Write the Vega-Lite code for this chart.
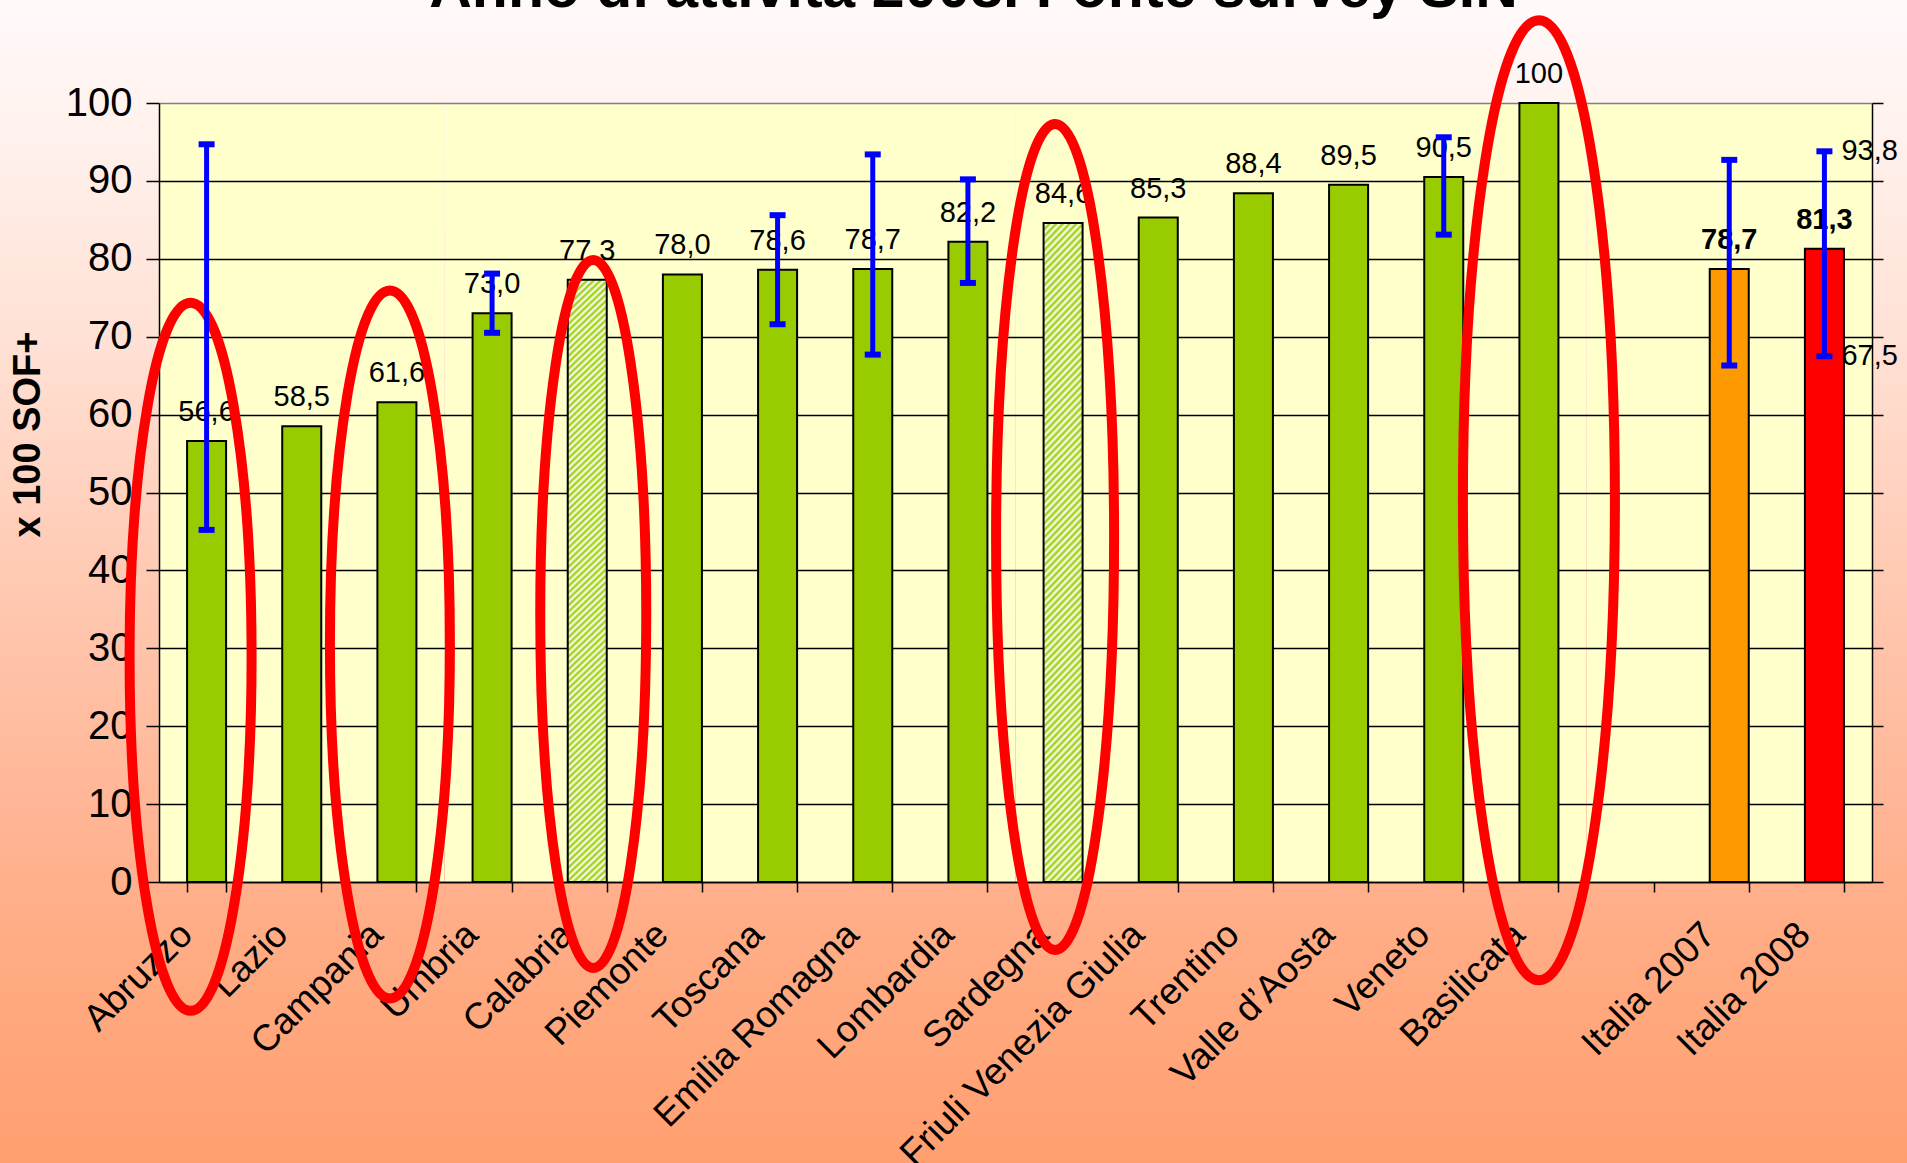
{
  "$schema": "https://vega.github.io/schema/vega-lite/v6.json",
  "width": 1907,
  "height": 1163,
  "autosize": {"type": "none"},
  "padding": 0,
  "background": "#ffffff",
  "view": {
    "stroke": null,
    "fill": {
      "gradient": "linear", "x1": 0, "y1": 0, "x2": 0, "y2": 1,
      "stops": [
        {"offset": 0, "color": "#fffafa"},
        {"offset": 0.12, "color": "#fff1ec"},
        {"offset": 0.3, "color": "#ffe0d4"},
        {"offset": 0.5, "color": "#ffc9b2"},
        {"offset": 0.7, "color": "#ffb595"},
        {"offset": 0.82, "color": "#ffab83"},
        {"offset": 1, "color": "#ff9f70"}
      ]
    }
  },
  "title": {
    "text": "Anno di attività 2008. Fonte survey SIN",
    "font": "Liberation Sans",
    "fontSize": 59,
    "fontWeight": "bold",
    "color": "#000000",
    "anchor": "middle",
    "offset": -19,
    "dx": 20
  },
  "datasets": {
    "dati": [
      {"regione": "Abruzzo", "valore": 56.6, "etichetta": "56,6", "lo": 45.2, "hi": 94.7},
      {"regione": "Lazio", "valore": 58.5, "etichetta": "58,5"},
      {"regione": "Campania", "valore": 61.6, "etichetta": "61,6"},
      {"regione": "Umbria", "valore": 73.0, "etichetta": "73,0", "lo": 70.5, "hi": 78.1},
      {"regione": "Calabria", "valore": 77.3, "etichetta": "77,3"},
      {"regione": "Piemonte", "valore": 78.0, "etichetta": "78,0"},
      {"regione": "Toscana", "valore": 78.6, "etichetta": "78,6", "lo": 71.6, "hi": 85.6},
      {"regione": "Emilia Romagna", "valore": 78.7, "etichetta": "78,7", "lo": 67.7, "hi": 93.4},
      {"regione": "Lombardia", "valore": 82.2, "etichetta": "82,2", "lo": 76.9, "hi": 90.2},
      {"regione": "Sardegna", "valore": 84.6, "etichetta": "84,6"},
      {"regione": "Friuli Venezia Giulia", "valore": 85.3, "etichetta": "85,3"},
      {"regione": "Trentino", "valore": 88.4, "etichetta": "88,4"},
      {"regione": "Valle d’Aosta", "valore": 89.5, "etichetta": "89,5"},
      {"regione": "Veneto", "valore": 90.5, "etichetta": "90,5", "lo": 83.1, "hi": 95.6},
      {"regione": "Basilicata", "valore": 100, "etichetta": "100"},
      {"regione": "Italia 2007", "valore": 78.7, "etichetta": "78,7", "lo": 66.3, "hi": 92.7},
      {"regione": "Italia 2008", "valore": 81.3, "etichetta": "81,3", "lo": 67.5, "hi": 93.8, "etichetta_lo": "67,5", "etichetta_hi": "93,8"}
    ],
    "ellissi": [
      {"regione": "Abruzzo", "centro": 28.9},
      {"regione": "Campania", "centro": 30.5},
      {"regione": "Calabria", "centro": 34.4},
      {"regione": "Sardegna", "centro": 44.3},
      {"regione": "Basilicata", "centro": 49.0}
    ]
  },
  "data": {"name": "dati"},
  "resolve": {"axis": {"x": "independent", "y": "independent"}},
  "layer": [
    {
      "mark": {"type": "bar", "stroke": "#000000", "strokeWidth": 2},
      "encoding": {
        "x": {
          "field": "regione", "type": "nominal", "sort": null,
          "scale": {
            "domain": ["Abruzzo", "Lazio", "Campania", "Umbria", "Calabria", "Piemonte", "Toscana", "Emilia Romagna", "Lombardia", "Sardegna", "Friuli Venezia Giulia", "Trentino", "Valle d’Aosta", "Veneto", "Basilicata", " ", "Italia 2007", "Italia 2008"],
            "range": [159, 1872],
            "paddingInner": 0.59,
            "paddingOuter": 0.295
          },
          "axis": {
            "orient": "bottom",
            "offset": -281,
            "title": null,
            "labelAngle": -45,
            "labelAlign": "right",
            "labelBaseline": "top",
            "labelFont": "Liberation Sans",
            "labelFontSize": 37,
            "labelColor": "#000000",
            "labelPadding": 24,
            "labelOffset": -33,
            "labelLimit": 0,
            "labelOverlap": false,
            "labelBound": false,
            "labelFlush": false,
            "tickBand": "extent",
            "tickSize": 10,
            "tickColor": "#000000",
            "tickWidth": 1.5,
            "domainColor": "#000000",
            "domainWidth": 1.5,
            "grid": false
          }
        },
        "y": {
          "field": "valore", "type": "quantitative",
          "scale": {"domain": [0, 100], "range": [882, 103], "nice": false, "zero": true},
          "axis": {
            "orient": "left",
            "offset": -159,
            "values": [0, 10, 20, 30, 40, 50, 60, 70, 80, 90, 100],
            "title": "x 100 SOF+",
            "titleFont": "Liberation Sans",
            "titleFontSize": 38,
            "titleFontWeight": "bold",
            "titleColor": "#000000",
            "titlePadding": 18,
            "titleY": 434,
            "labelFont": "Liberation Sans",
            "labelFontSize": 40,
            "labelColor": "#000000",
            "labelPadding": 14,
            "tickSize": 13,
            "tickColor": "#000000",
            "tickWidth": 1.5,
            "domainColor": "#000000",
            "domainWidth": 1.5,
            "grid": true,
            "gridColor": {"condition": {"test": "datum.value === 100", "value": "#808080"}, "value": "#000000"},
            "gridWidth": 1.3,
            "gridOpacity": 1
          }
        },
        "fill": {
          "condition": [
            {
              "test": "datum.regione === 'Calabria' || datum.regione === 'Sardegna'",
              "value": {
                "gradient": "linear", "x1": 0, "y1": 0, "x2": 0.0655, "y2": 1.058,
                "stops": [
{"offset":0,"color":"#9c0"},{"offset":0.005,"color":"#fff"},{"offset":0.01,"color":"#9c0"},{"offset":0.015,"color":"#fff"},{"offset":0.02,"color":"#9c0"},{"offset":0.025,"color":"#fff"},{"offset":0.03,"color":"#9c0"},{"offset":0.035,"color":"#fff"},{"offset":0.04,"color":"#9c0"},{"offset":0.045,"color":"#fff"},
{"offset":0.05,"color":"#9c0"},{"offset":0.055,"color":"#fff"},{"offset":0.06,"color":"#9c0"},{"offset":0.065,"color":"#fff"},{"offset":0.07,"color":"#9c0"},{"offset":0.075,"color":"#fff"},{"offset":0.08,"color":"#9c0"},{"offset":0.085,"color":"#fff"},{"offset":0.09,"color":"#9c0"},{"offset":0.095,"color":"#fff"},
{"offset":0.1,"color":"#9c0"},{"offset":0.105,"color":"#fff"},{"offset":0.11,"color":"#9c0"},{"offset":0.115,"color":"#fff"},{"offset":0.12,"color":"#9c0"},{"offset":0.125,"color":"#fff"},{"offset":0.13,"color":"#9c0"},{"offset":0.135,"color":"#fff"},{"offset":0.14,"color":"#9c0"},{"offset":0.145,"color":"#fff"},
{"offset":0.15,"color":"#9c0"},{"offset":0.155,"color":"#fff"},{"offset":0.16,"color":"#9c0"},{"offset":0.165,"color":"#fff"},{"offset":0.17,"color":"#9c0"},{"offset":0.175,"color":"#fff"},{"offset":0.18,"color":"#9c0"},{"offset":0.185,"color":"#fff"},{"offset":0.19,"color":"#9c0"},{"offset":0.195,"color":"#fff"},
{"offset":0.2,"color":"#9c0"},{"offset":0.205,"color":"#fff"},{"offset":0.21,"color":"#9c0"},{"offset":0.215,"color":"#fff"},{"offset":0.22,"color":"#9c0"},{"offset":0.225,"color":"#fff"},{"offset":0.23,"color":"#9c0"},{"offset":0.235,"color":"#fff"},{"offset":0.24,"color":"#9c0"},{"offset":0.245,"color":"#fff"},
{"offset":0.25,"color":"#9c0"},{"offset":0.255,"color":"#fff"},{"offset":0.26,"color":"#9c0"},{"offset":0.265,"color":"#fff"},{"offset":0.27,"color":"#9c0"},{"offset":0.275,"color":"#fff"},{"offset":0.28,"color":"#9c0"},{"offset":0.285,"color":"#fff"},{"offset":0.29,"color":"#9c0"},{"offset":0.295,"color":"#fff"},
{"offset":0.3,"color":"#9c0"},{"offset":0.305,"color":"#fff"},{"offset":0.31,"color":"#9c0"},{"offset":0.315,"color":"#fff"},{"offset":0.32,"color":"#9c0"},{"offset":0.325,"color":"#fff"},{"offset":0.33,"color":"#9c0"},{"offset":0.335,"color":"#fff"},{"offset":0.34,"color":"#9c0"},{"offset":0.345,"color":"#fff"},
{"offset":0.35,"color":"#9c0"},{"offset":0.355,"color":"#fff"},{"offset":0.36,"color":"#9c0"},{"offset":0.365,"color":"#fff"},{"offset":0.37,"color":"#9c0"},{"offset":0.375,"color":"#fff"},{"offset":0.38,"color":"#9c0"},{"offset":0.385,"color":"#fff"},{"offset":0.39,"color":"#9c0"},{"offset":0.395,"color":"#fff"},
{"offset":0.4,"color":"#9c0"},{"offset":0.405,"color":"#fff"},{"offset":0.41,"color":"#9c0"},{"offset":0.415,"color":"#fff"},{"offset":0.42,"color":"#9c0"},{"offset":0.425,"color":"#fff"},{"offset":0.43,"color":"#9c0"},{"offset":0.435,"color":"#fff"},{"offset":0.44,"color":"#9c0"},{"offset":0.445,"color":"#fff"},
{"offset":0.45,"color":"#9c0"},{"offset":0.455,"color":"#fff"},{"offset":0.46,"color":"#9c0"},{"offset":0.465,"color":"#fff"},{"offset":0.47,"color":"#9c0"},{"offset":0.475,"color":"#fff"},{"offset":0.48,"color":"#9c0"},{"offset":0.485,"color":"#fff"},{"offset":0.49,"color":"#9c0"},{"offset":0.495,"color":"#fff"},
{"offset":0.5,"color":"#9c0"},{"offset":0.505,"color":"#fff"},{"offset":0.51,"color":"#9c0"},{"offset":0.515,"color":"#fff"},{"offset":0.52,"color":"#9c0"},{"offset":0.525,"color":"#fff"},{"offset":0.53,"color":"#9c0"},{"offset":0.535,"color":"#fff"},{"offset":0.54,"color":"#9c0"},{"offset":0.545,"color":"#fff"},
{"offset":0.55,"color":"#9c0"},{"offset":0.555,"color":"#fff"},{"offset":0.56,"color":"#9c0"},{"offset":0.565,"color":"#fff"},{"offset":0.57,"color":"#9c0"},{"offset":0.575,"color":"#fff"},{"offset":0.58,"color":"#9c0"},{"offset":0.585,"color":"#fff"},{"offset":0.59,"color":"#9c0"},{"offset":0.595,"color":"#fff"},
{"offset":0.6,"color":"#9c0"},{"offset":0.605,"color":"#fff"},{"offset":0.61,"color":"#9c0"},{"offset":0.615,"color":"#fff"},{"offset":0.62,"color":"#9c0"},{"offset":0.625,"color":"#fff"},{"offset":0.63,"color":"#9c0"},{"offset":0.635,"color":"#fff"},{"offset":0.64,"color":"#9c0"},{"offset":0.645,"color":"#fff"},
{"offset":0.65,"color":"#9c0"},{"offset":0.655,"color":"#fff"},{"offset":0.66,"color":"#9c0"},{"offset":0.665,"color":"#fff"},{"offset":0.67,"color":"#9c0"},{"offset":0.675,"color":"#fff"},{"offset":0.68,"color":"#9c0"},{"offset":0.685,"color":"#fff"},{"offset":0.69,"color":"#9c0"},{"offset":0.695,"color":"#fff"},
{"offset":0.7,"color":"#9c0"},{"offset":0.705,"color":"#fff"},{"offset":0.71,"color":"#9c0"},{"offset":0.715,"color":"#fff"},{"offset":0.72,"color":"#9c0"},{"offset":0.725,"color":"#fff"},{"offset":0.73,"color":"#9c0"},{"offset":0.735,"color":"#fff"},{"offset":0.74,"color":"#9c0"},{"offset":0.745,"color":"#fff"},
{"offset":0.75,"color":"#9c0"},{"offset":0.755,"color":"#fff"},{"offset":0.76,"color":"#9c0"},{"offset":0.765,"color":"#fff"},{"offset":0.77,"color":"#9c0"},{"offset":0.775,"color":"#fff"},{"offset":0.78,"color":"#9c0"},{"offset":0.785,"color":"#fff"},{"offset":0.79,"color":"#9c0"},{"offset":0.795,"color":"#fff"},
{"offset":0.8,"color":"#9c0"},{"offset":0.805,"color":"#fff"},{"offset":0.81,"color":"#9c0"},{"offset":0.815,"color":"#fff"},{"offset":0.82,"color":"#9c0"},{"offset":0.825,"color":"#fff"},{"offset":0.83,"color":"#9c0"},{"offset":0.835,"color":"#fff"},{"offset":0.84,"color":"#9c0"},{"offset":0.845,"color":"#fff"},
{"offset":0.85,"color":"#9c0"},{"offset":0.855,"color":"#fff"},{"offset":0.86,"color":"#9c0"},{"offset":0.865,"color":"#fff"},{"offset":0.87,"color":"#9c0"},{"offset":0.875,"color":"#fff"},{"offset":0.88,"color":"#9c0"},{"offset":0.885,"color":"#fff"},{"offset":0.89,"color":"#9c0"},{"offset":0.895,"color":"#fff"},
{"offset":0.9,"color":"#9c0"},{"offset":0.905,"color":"#fff"},{"offset":0.91,"color":"#9c0"},{"offset":0.915,"color":"#fff"},{"offset":0.92,"color":"#9c0"},{"offset":0.925,"color":"#fff"},{"offset":0.93,"color":"#9c0"},{"offset":0.935,"color":"#fff"},{"offset":0.94,"color":"#9c0"},{"offset":0.945,"color":"#fff"},
{"offset":0.95,"color":"#9c0"},{"offset":0.955,"color":"#fff"},{"offset":0.96,"color":"#9c0"},{"offset":0.965,"color":"#fff"},{"offset":0.97,"color":"#9c0"},{"offset":0.975,"color":"#fff"},{"offset":0.98,"color":"#9c0"},{"offset":0.985,"color":"#fff"},{"offset":0.99,"color":"#9c0"},{"offset":0.995,"color":"#fff"},
{"offset":1,"color":"#9c0"}
                ]
              }
            },
            {"test": "datum.regione === 'Italia 2007'", "value": "#ff9900"},
            {"test": "datum.regione === 'Italia 2008'", "value": "#ff0000"}
          ],
          "value": "#99cc00"
        }
      }
    },
    {
      "transform": [{"filter": "datum.regione !== 'Italia 2007' && datum.regione !== 'Italia 2008'"}],
      "mark": {"type": "text", "font": "Liberation Sans", "fontSize": 29, "color": "#000000", "align": "center", "baseline": "alphabetic", "dy": -20},
      "encoding": {
        "x": {"field": "regione", "type": "nominal", "axis": null},
        "y": {"field": "valore", "type": "quantitative", "axis": null},
        "text": {"field": "etichetta"}
      }
    },
    {
      "transform": [{"filter": "datum.regione === 'Italia 2007' || datum.regione === 'Italia 2008'"}],
      "mark": {"type": "text", "font": "Liberation Sans", "fontSize": 29, "fontWeight": "bold", "color": "#000000", "align": "center", "baseline": "alphabetic", "dy": -20},
      "encoding": {
        "x": {"field": "regione", "type": "nominal", "axis": null},
        "y": {"field": "valore", "type": "quantitative", "axis": null},
        "text": {"field": "etichetta"}
      }
    },
    {
      "data": {"name": "ellissi"},
      "mark": {"type": "point", "filled": false, "fill": null, "stroke": "#ff0000", "strokeWidth": 10, "opacity": 1, "size": 1000000},
      "encoding": {
        "x": {"field": "regione", "type": "nominal", "axis": null},
        "y": {"field": "centro", "type": "quantitative", "axis": null},
        "shape": {
          "field": "regione", "type": "nominal", "legend": null,
          "scale": {
            "domain": ["Abruzzo", "Campania", "Calabria", "Sardegna", "Basilicata"],
            "range": [
              "M-0.032 -0.708C0.0354 -0.708 0.09 -0.391 0.09 0C0.09 0.391 0.0354 0.708 -0.032 0.708C-0.0994 0.708 -0.154 0.391 -0.154 0C-0.154 -0.391 -0.0994 -0.708 -0.032 -0.708Z",
              "M-0.014 -0.708C0.0523 -0.708 0.106 -0.391 0.106 0C0.106 0.391 0.0523 0.708 -0.014 0.708C-0.0803 0.708 -0.134 0.391 -0.134 0C-0.134 -0.391 -0.0803 -0.708 -0.014 -0.708Z",
              "M0.012 -0.708C0.0705 -0.708 0.118 -0.391 0.118 0C0.118 0.391 0.0705 0.708 0.012 0.708C-0.0465 0.708 -0.094 0.391 -0.094 0C-0.094 -0.391 -0.0465 -0.708 0.012 -0.708Z",
              "M-0.016 -0.826C0.0492 -0.826 0.102 -0.4562 0.102 0C0.102 0.4562 0.0492 0.826 -0.016 0.826C-0.0812 0.826 -0.134 0.4562 -0.134 0C-0.134 -0.4562 -0.0812 -0.826 -0.016 -0.826Z",
              "M0 -0.96C0.0839 -0.96 0.152 -0.5302 0.152 0C0.152 0.5302 0.0839 0.96 0 0.96C-0.0839 0.96 -0.152 0.5302 -0.152 0C-0.152 -0.5302 -0.0839 -0.96 0 -0.96Z"
            ]
          }
        }
      }
    },
    {
      "transform": [{"filter": "isValid(datum.lo)"}],
      "mark": {"type": "rule", "color": "#0000ff", "strokeWidth": 5},
      "encoding": {
        "x": {
          "field": "regione", "type": "nominal",
          "axis": {"orient": "top", "title": null, "domain": false, "ticks": false, "labels": false, "grid": true, "gridColor": "#ffffcc", "gridOpacity": 1, "gridWidth": 95.4, "tickBand": "center"}
        },
        "y": {
          "field": "lo", "type": "quantitative",
          "axis": {"orient": "right", "offset": -35, "values": [0, 10, 20, 30, 40, 50, 60, 70, 80, 90, 100], "title": null, "labels": false, "ticks": true, "tickSize": 11, "tickColor": "#000000", "tickWidth": 1.5, "domain": true, "domainColor": "#000000", "domainWidth": 1.5, "grid": false}
        },
        "y2": {"field": "hi"}
      }
    },
    {
      "transform": [{"filter": "isValid(datum.lo)"}],
      "mark": {"type": "tick", "color": "#0000ff", "size": 16, "thickness": 6, "opacity": 1},
      "encoding": {
        "x": {"field": "regione", "type": "nominal", "axis": null},
        "y": {"field": "lo", "type": "quantitative", "axis": null}
      }
    },
    {
      "transform": [{"filter": "isValid(datum.hi)"}],
      "mark": {"type": "tick", "color": "#0000ff", "size": 16, "thickness": 6, "opacity": 1},
      "encoding": {
        "x": {"field": "regione", "type": "nominal", "axis": null},
        "y": {"field": "hi", "type": "quantitative", "axis": null}
      }
    },
    {
      "transform": [{"filter": "isValid(datum.etichetta_hi)"}],
      "mark": {"type": "text", "font": "Liberation Sans", "fontSize": 29, "color": "#000000", "align": "left", "baseline": "middle", "dx": 17},
      "encoding": {
        "x": {"field": "regione", "type": "nominal", "axis": null},
        "y": {"field": "hi", "type": "quantitative", "axis": null},
        "text": {"field": "etichetta_hi"}
      }
    },
    {
      "transform": [{"filter": "isValid(datum.etichetta_lo)"}],
      "mark": {"type": "text", "font": "Liberation Sans", "fontSize": 29, "color": "#000000", "align": "left", "baseline": "middle", "dx": 17},
      "encoding": {
        "x": {"field": "regione", "type": "nominal", "axis": null},
        "y": {"field": "lo", "type": "quantitative", "axis": null},
        "text": {"field": "etichetta_lo"}
      }
    }
  ],
  "config": {
    "font": "Liberation Sans"
  }
}
